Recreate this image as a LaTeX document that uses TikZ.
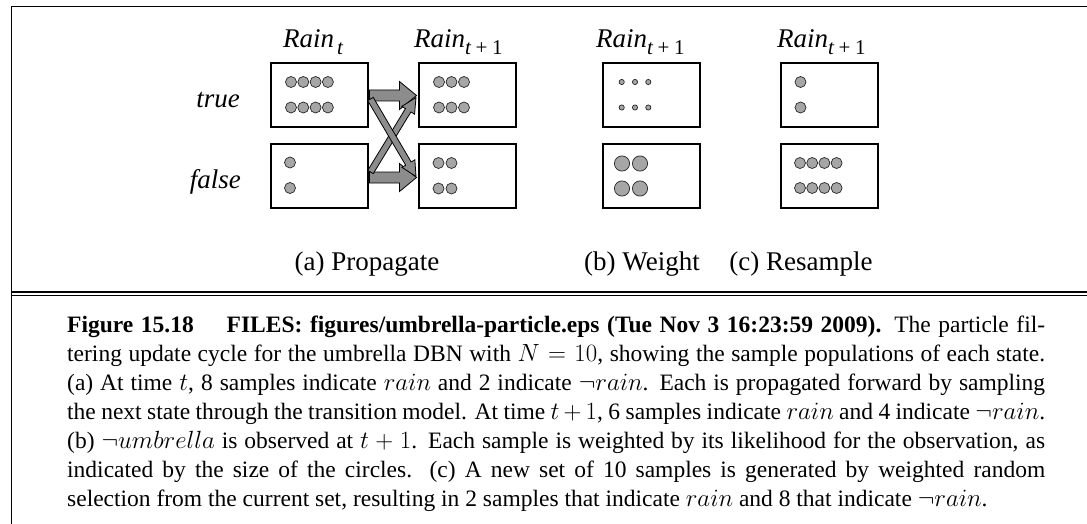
\documentclass[tikz,border=0pt]{standalone}
\usepackage{fontspec}
\setmainfont{Liberation Serif}
\usetikzlibrary{calc}
\tikzset{
  box/.style={draw=black, line width=2pt, fill=white, minimum width=97pt, minimum height=64pt, inner sep=0pt},
  dotst/.style={draw=black!85, line width=0.7pt, fill=black!35},
  barrow/.style={draw=black, line width=0.8pt, fill=black!45, line join=miter},
  toplab/.style={font=\fontsize{27pt}{30pt}\selectfont\itshape, inner sep=0pt},
  botlab/.style={font=\fontsize{27pt}{30pt}\selectfont, inner sep=0pt, anchor=base},
  frameline/.style={line width=1.8pt, black},
}
\newcommand\dotrow[5]{\foreach \i in {1,...,#3} {\draw[dotst] ({#1+(\i-1)*#4},#2) circle[radius=#5pt];}}
\newcommand\blockarrow[5]{% from, to, shaft half width, head half width, head length
  \path ($(#2)!#5!(#1)$) coordinate (hb);
  \draw[barrow] ($(#1)!#3!90:(#2)$) -- ($(hb)!#3!90:(#2)$) -- ($(hb)!#4!90:(#2)$) -- (#2)
    -- ($(hb)!#4!-90:(#2)$) -- ($(hb)!#3!-90:(#2)$) -- ($(#1)!#3!-90:(#2)$) -- cycle;}
\newcommand\subtp{\raisebox{-6.5pt}{\fontsize{21pt}{21pt}\selectfont\itshape t\upshape\hspace{0.22em}+\hspace{0.22em}1}}
\begin{document}
\begin{tikzpicture}[x=1pt, y=-1pt]
\useasboundingbox (0,0) rectangle (1087,524);
% frame
\draw[frameline] (11.5,524) -- (11.5,6.5) -- (1087,6.5);
\draw[line width=1.7pt] (11.5,292) -- (1087,292);
\draw[line width=1.3pt] (11.5,295.6) -- (1087,295.6);
% boxes (named)
\node[box] (T1) at (319,95.5) {};
\node[box] (F1) at (319,176) {};
\node[box] (T2) at (467.5,95.5) {};
\node[box] (F2) at (467.5,176) {};
\node[box] (T3) at (651,95.5) {};
\node[box] (F3) at (651,176) {};
\node[box] (T4) at (829.5,95.5) {};
\node[box] (F4) at (829.5,176) {};
% arrow end points
\coordinate (a1s) at ([xshift=1pt]T1.east);
\coordinate (a1e) at ([xshift=-1.5pt]T2.west);
\coordinate (a2s) at ([xshift=1pt,yshift=-1.5pt]F1.east);
\coordinate (a2e) at ([xshift=-1.5pt,yshift=-1.5pt]F2.west);
\coordinate (a3s) at ([xshift=2pt,yshift=4pt]F1.east);
\coordinate (a3e) at ([xshift=-2pt,yshift=-2pt]T2.west);
\coordinate (a4s) at ([xshift=2pt,yshift=-3.5pt]T1.east);
\coordinate (a4e) at ([xshift=-2pt,yshift=-0.5pt]F2.west);
\blockarrow{a1s}{a1e}{5.5pt}{14pt}{17pt}
\blockarrow{a2s}{a2e}{5.5pt}{14pt}{17pt}
\blockarrow{a3s}{a3e}{3.2pt}{7.5pt}{15pt}
\blockarrow{a4s}{a4e}{3.2pt}{7.5pt}{15pt}
% dots
\dotrow{291}{82}{4}{12.3}{5.5}\dotrow{291}{107.5}{4}{12.3}{5.5}
\dotrow{290}{162.5}{1}{0}{5.5}\dotrow{290}{188}{1}{0}{5.5}
\dotrow{439}{82}{3}{12.5}{5.5}\dotrow{439}{107.5}{3}{12.5}{5.5}
\dotrow{438.5}{163}{2}{13}{5.5}\dotrow{438.5}{188.5}{2}{13}{5.5}
\dotrow{621.7}{82}{3}{13.3}{2.6}\dotrow{621.7}{107.5}{3}{13.3}{2.6}
\dotrow{622}{163.5}{2}{18}{7.6}\dotrow{622}{188.5}{2}{18}{7.6}
\dotrow{800.5}{82}{1}{0}{5.5}\dotrow{800.5}{107.5}{1}{0}{5.5}
\dotrow{800}{163}{4}{12.2}{5.5}\dotrow{800}{188}{4}{12.2}{5.5}
% top labels
\node[toplab, anchor=base west] (L1) at (283,48) {Rain\hspace{3pt}\raisebox{-6.5pt}{\fontsize{21pt}{21pt}\selectfont t}};
\node[toplab, anchor=base west] (L2) at (414,48) {Rain\subtp};
\node[toplab, anchor=base west] (L3) at (596,48) {Rain\subtp};
\node[toplab, anchor=base west] (L4) at (777,48) {Rain\subtp};
\node[toplab, anchor=base east] (Ltrue) at (240,108) {true};
\node[toplab, anchor=base east] (Lfalse) at (241,188) {false};
% bottom labels
\node[botlab] (La) at (367,270) {(a) Propagate};
\node[botlab] (Lb) at (642,270) {(b) Weight};
\node[botlab] (Lc) at (801,270) {(c) Resample};
% caption
\node[anchor=north west, text width=978pt, align=justify, inner sep=0pt,
      font=\fontsize{23.5pt}{29pt}\selectfont] (cap) at (67,315.8)
{\tolerance=10000\textbf{Figure 15.18\hspace{1.4em}FILES: figures/umbrella-particle.eps (Tue Nov 3 16:23:59 2009).} The particle fil-\linebreak
tering update cycle for the umbrella DBN with $N=10$, showing the sample populations of each state.\linebreak
(a) At time $t$, 8 samples indicate $rain$ and 2 indicate $\neg rain$. Each is propagated forward by sampling\linebreak
the next state through the transition model. At time $t+1$, 6 samples indicate $rain$ and 4 indicate $\neg rain$.\linebreak
(b) $\neg umbrella$ is observed at $t+1$. Each sample is weighted by its likelihood for the observation, as\linebreak
indicated by the size of the circles. (c) A new set of 10 samples is generated by weighted random\linebreak
selection from the current set, resulting in 2 samples that indicate $rain$ and 8 that indicate $\neg rain$.\par};
\end{tikzpicture}
\end{document}
